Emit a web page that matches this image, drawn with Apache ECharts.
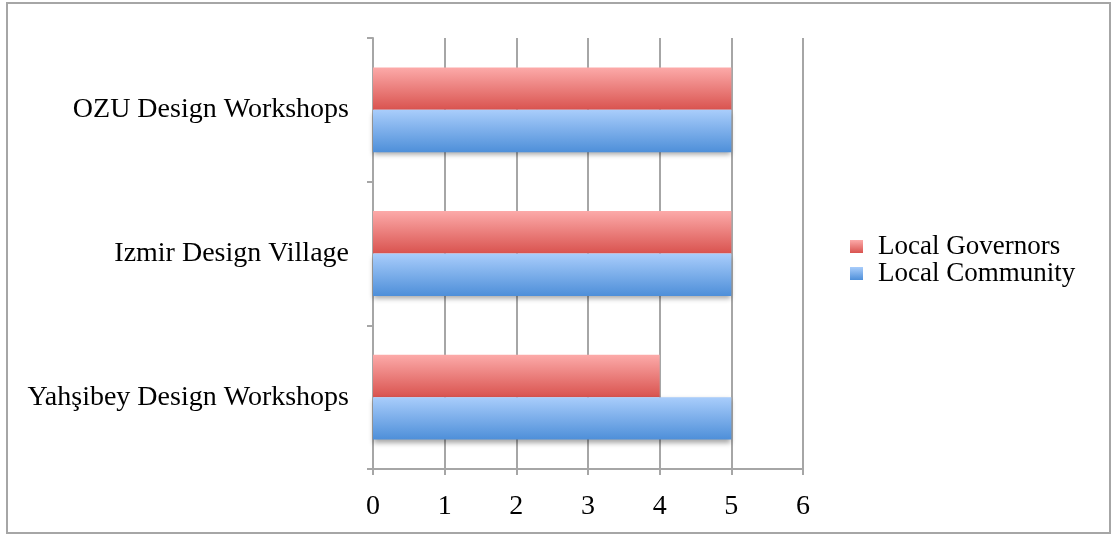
<!DOCTYPE html>
<html>
<head>
<meta charset="utf-8">
<script src="https://cdn.jsdelivr.net/npm/echarts@6/dist/echarts.min.js"></script>
<style>
    html,body{margin:0;padding:0;background:#fff;}
    #chart{width:1113px;height:536px;}
</style>
</head>
<body>
<div id="chart"></div>
<script>
    // 数据
    var categories = ['Yahşibey Design Workshops', 'Izmir Design Village', 'OZU Design Workshops'];
    var seriesNames = ['Local Governors', 'Local Community'];
    var governorsValues = [4, 5, 5];
    var communityValues = [5, 5, 5];
    var xTicks = [0, 1, 2, 3, 4, 5, 6];

    var font = '"Liberation Serif", serif';
    var gray = '#a6a6a6';

    function grad(top, bottom){
        return new echarts.graphic.LinearGradient(0, 0, 0, 1, [
            {offset: 0, color: top},
            {offset: 1, color: bottom}
        ]);
    }

    var myChart = echarts.init(document.getElementById('chart'));
    var option = {
        animation: false,
        textStyle: {fontFamily: font},
        graphic: [{
            type: 'rect',
            shape: {x: 7, y: 3, width: 1103, height: 530},
            style: {fill: 'none', stroke: gray, lineWidth: 2},
            silent: true
        }],
        legend: {
            orient: 'vertical',
            left: 845,
            top: 228,
            itemWidth: 13,
            itemHeight: 13,
            itemGap: 0,
            icon: 'rect',
            textStyle: {fontFamily: font, fontSize: 27, color: '#000', padding: [0, 0, 0, 10]},
            data: seriesNames
        },
        grid: {left: 373, right: 310, top: 38, bottom: 67},
        xAxis: {
            type: 'value',
            min: xTicks[0],
            max: xTicks[xTicks.length - 1],
            interval: 1,
            axisLine: {show: true, lineStyle: {color: gray, width: 2}},
            axisTick: {show: true, length: 6, lineStyle: {color: gray, width: 2}},
            splitLine: {show: true, lineStyle: {color: gray, width: 2}},
            axisLabel: {color: '#000', fontSize: 28, fontFamily: font, margin: 24}
        },
        yAxis: {
            type: 'category',
            data: categories,
            axisLine: {show: true, lineStyle: {color: gray, width: 2}},
            axisTick: {show: true, length: 6, lineStyle: {color: gray, width: 2}},
            axisLabel: {color: '#000', fontSize: 28, fontFamily: font, margin: 24}
        },
        series: [
            {
                name: seriesNames[0],
                type: 'bar',
                data: governorsValues,
                barGap: '0%',
                barCategoryGap: '41%',
                itemStyle: {
                    color: grad('#fcaaa9', '#d9534f')
                }
            },
            {
                name: seriesNames[1],
                type: 'bar',
                data: communityValues,
                barGap: '0%',
                barCategoryGap: '41%',
                itemStyle: {
                    color: grad('#a9cdfb', '#4e8fd9'),
                    shadowColor: 'rgba(0,0,0,0.35)',
                    shadowBlur: 5,
                    shadowOffsetY: 3
                }
            }
        ]
    };
    myChart.setOption(option);
</script>
</body>
</html>
